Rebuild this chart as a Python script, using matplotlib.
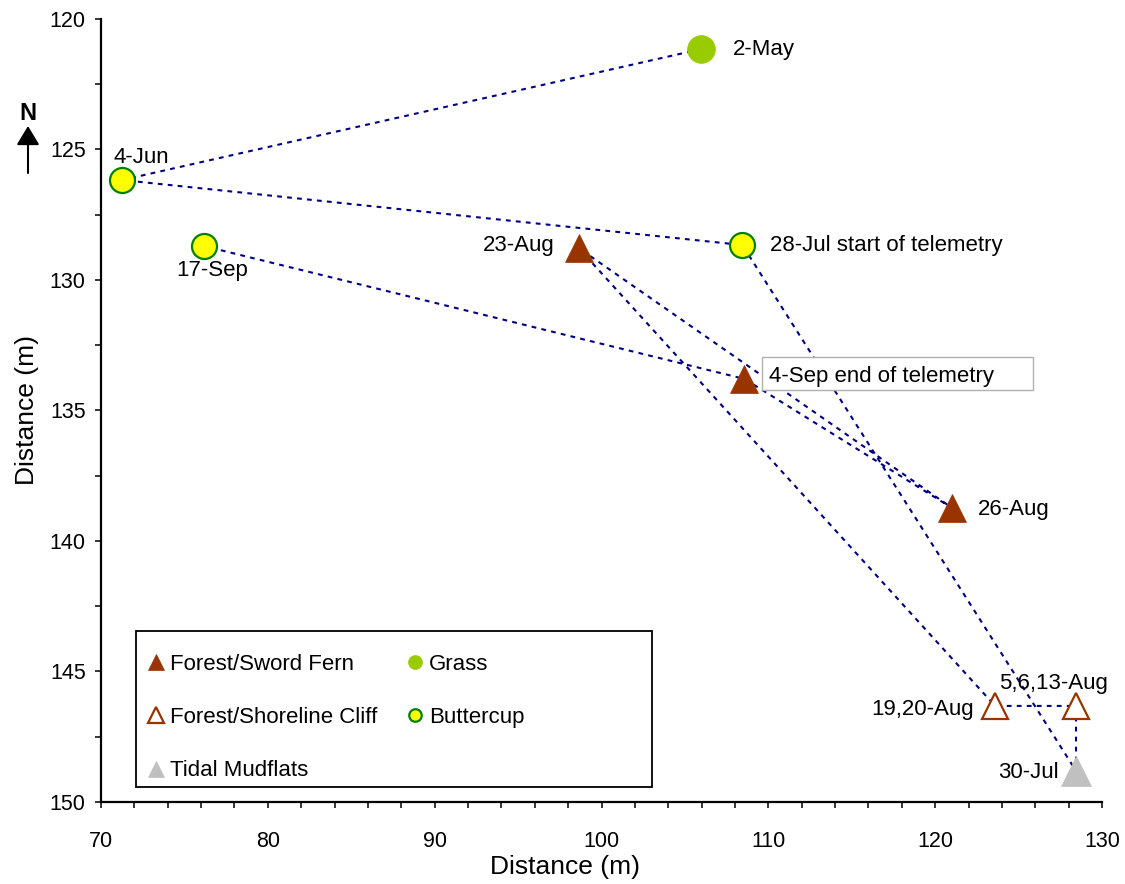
import matplotlib
matplotlib.use("Agg")
import matplotlib.pyplot as plt
from matplotlib.lines import Line2D
from matplotlib.patches import Rectangle
from matplotlib.transforms import IdentityTransform
from matplotlib.ticker import MultipleLocator

plt.rcParams["font.family"] = ["Liberation Sans", "DejaVu Sans"]

# telemetry fixes in date order
dates = ["2-May", "4-Jun", "28-Jul", "30-Jul", "5,6,13-Aug", "19,20-Aug",
         "23-Aug", "26-Aug", "4-Sep", "17-Sep"]
east = [105.99, 71.26, 108.44, 128.44, 128.44, 123.59, 98.62, 121.02, 108.56, 76.17]
north = [121.15, 126.17, 128.66, 148.81, 146.32, 146.32, 128.77, 138.74, 133.79, 128.70]
habitat = ["Grass", "Buttercup", "Buttercup", "Tidal Mudflats", "Forest/Shoreline Cliff",
           "Forest/Shoreline Cliff", "Forest/Sword Fern", "Forest/Sword Fern",
           "Forest/Sword Fern", "Buttercup"]
point_text = ["2-May", "4-Jun", "28-Jul start of telemetry", "30-Jul", "5,6,13-Aug",
              "19,20-Aug", "23-Aug", "26-Aug", "4-Sep end of telemetry", "17-Sep"]

legend_order = ["Forest/Sword Fern", "Forest/Shoreline Cliff", "Tidal Mudflats",
                "Grass", "Buttercup"]

styles = {
    "Forest/Sword Fern": dict(marker="^", ms=20, mfc="#993300", mec="#993300", mew=0.5),
    "Forest/Shoreline Cliff": dict(marker="^", ms=19, mfc="white", mec="#993300", mew=1.6),
    "Tidal Mudflats": dict(marker="^", ms=21, mfc="#C0C0C0", mec="#C0C0C0", mew=0.5),
    "Grass": dict(marker="o", ms=20, mfc="#99CC00", mec="#99CC00", mew=0.5),
    "Buttercup": dict(marker="o", ms=18, mfc="#FFFF00", mec="#008000", mew=1.6),
}
legend_sizes = {"Forest/Sword Fern": 12, "Forest/Shoreline Cliff": 11,
                "Tidal Mudflats": 12, "Grass": 10, "Buttercup": 9}

# label offsets in pixels (dx, dy up) and horizontal alignment
offsets = {
    "2-May": (31, -6, "left"),
    "4-Jun": (-9, 17, "left"),
    "28-Jul": (28, -6, "left"),
    "30-Jul": (-17, -7, "right"),
    "5,6,13-Aug": (-77, 17, "left"),
    "19,20-Aug": (-21, -9, "right"),
    "23-Aug": (-24, -3, "right"),
    "26-Aug": (26, -7, "left"),
    "4-Sep": (25, -3, "left"),
    "17-Sep": (-28, -30, "left"),
}

fig = plt.figure(figsize=(11.25, 8.84), dpi=100)
ax = fig.add_axes([0.0898, 0.0928, 0.9796 - 0.0898, 0.9785 - 0.0928])

# movement path
ax.plot(east, north, color="#000080", lw=1.5, ls=(0, (2.3, 2.5)), zorder=1)

for x, y, h in zip(east, north, habitat):
    ax.plot([x], [y], ls="none", zorder=3, **styles[h])

label_artists = {}
for x, y, d, t in zip(east, north, dates, point_text):
    dx, dy, ha = offsets[d]
    label_artists[d] = ax.annotate(t, (x, y), xytext=(dx, dy), textcoords="offset pixels",
                                   ha=ha, va="baseline", fontsize=16, zorder=5)

ax.set_xlim(70, 130)
ax.set_ylim(150, 120)
ax.xaxis.set_major_locator(MultipleLocator(10))
ax.xaxis.set_minor_locator(MultipleLocator(2))
ax.yaxis.set_major_locator(MultipleLocator(5))
ax.yaxis.set_minor_locator(MultipleLocator(2.5))
for s in ["top", "right"]:
    ax.spines[s].set_visible(False)
for s in ["left", "bottom"]:
    ax.spines[s].set_linewidth(1.6)
ax.tick_params(which="both", direction="out", length=4, width=1.1, labelsize=15.5)
ax.tick_params(axis="x", which="both", pad=17)
ax.tick_params(axis="y", which="both", pad=7)
ax.set_xlabel("Distance (m)", fontsize=19)
ax.set_ylabel("Distance (m)", fontsize=19, labelpad=8)
ax.xaxis.set_label_coords(0.4635, -0.068)

# legend with a separate wide frame
handles = [Line2D([], [], ls="none", **{**styles[h], "ms": legend_sizes[h]}) for h in legend_order]
ax.legend(handles, legend_order, loc="upper left", bbox_to_anchor=(0.048, 0.189),
          ncol=2, frameon=False, fontsize=16, handlelength=0.6, handletextpad=0.33,
          columnspacing=1.4, labelspacing=1.45, borderpad=0, borderaxespad=0)
ax.add_patch(Rectangle((0.035, 0.019), 0.515, 0.199, transform=ax.transAxes,
                       fill=True, fc="white", ec="black", lw=1.3, zorder=2))

# north arrow
fig.text(28 / 1125, 1 - 113 / 884, "N", fontsize=17, fontweight="bold",
         ha="center", va="center")
ax.annotate("", xy=(28 / 1125, 1 - 126 / 884), xytext=(28 / 1125, 1 - 173 / 884),
            xycoords="figure fraction", textcoords="figure fraction",
            arrowprops=dict(arrowstyle="-|>,head_length=0.58,head_width=0.35",
                            mutation_scale=20, color="black", lw=1.5,
                            shrinkA=0, shrinkB=0))

# white box behind the end-of-telemetry label
fig.canvas.draw()
bb = label_artists["4-Sep"].get_window_extent()
ax.add_artist(Rectangle((bb.x0 - 7, bb.y0 - 3), bb.width + 46, bb.height + 12,
                        transform=IdentityTransform(), fc="white", ec="#B0B0B0",
                        lw=1.0, zorder=2.5))
label_artists["4-Sep"].set_zorder(6)

fig.savefig("out.png", dpi=100)
